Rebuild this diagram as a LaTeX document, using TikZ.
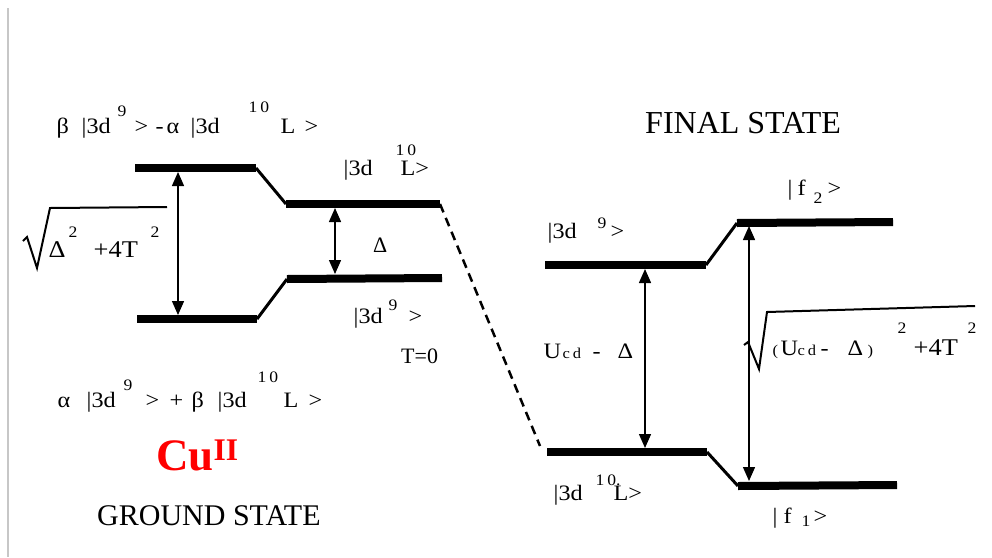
\documentclass[tikz,border=0pt]{standalone}
\usepackage{graphicx}
\usepackage{fontspec}
\setmainfont{Liberation Serif}
\usetikzlibrary{arrows.meta}
% place a piece of text at an x offset (pt) and a vertical raise (pt)
\newcommand{\pc}[3]{\rlap{\hspace*{#1pt}\raisebox{#2pt}{\scalebox{1.1}[1]{#3}}}}
\newcommand{\supf}[1]{{\fontsize{16}{16}\selectfont #1}}
\newcommand{\smf}[1]{{\fontsize{15}{15}\selectfont #1}}
\begin{document}
\begin{tikzpicture}[x=1pt,y=-1pt,
  level/.style={line width=8pt},
  slope/.style={line width=3pt},
  gaparrow/.style={line width=1.4pt,{Triangle[width=12pt,length=14pt]}-{Triangle[width=12pt,length=14pt]}},
  rootsign/.style={line width=2pt,line join=miter},
  lbl/.style={inner sep=0pt,anchor=base west,font=\fontsize{22}{24}\selectfont},
  lblbig/.style={inner sep=0pt,anchor=base west,font=\fontsize{24}{26}\selectfont},
  title/.style={inner sep=0pt,anchor=base west,font=\fontsize{32}{33}\selectfont}]
\useasboundingbox (0,0) rectangle (992,557);
\fill[white] (0,0) rectangle (992,557);
\draw[line width=2pt, black!22] (8,8) -- (8,557);

% ground state levels
\coordinate (lu1) at (135,168); \coordinate (lu2) at (256,168);
\coordinate (lu3) at (286,204); \coordinate (lu4) at (440,204);
\coordinate (ll1) at (137,319); \coordinate (ll2) at (257,319);
\coordinate (ll3) at (287,279); \coordinate (ll4) at (442,278);
\draw[level] (lu1) -- (lu2);
\draw[slope] (lu2) -- (lu3);
\draw[level] (lu3) -- (lu4);
\draw[level] (ll1) -- (ll2);
\draw[slope] (ll2) -- (ll3);
\draw[level] (ll3) -- (ll4);

% final state levels
\coordinate (ru1) at (545,265); \coordinate (ru2) at (706,265);
\coordinate (ru3) at (737,223); \coordinate (ru4) at (893,222);
\coordinate (rl1) at (547,452); \coordinate (rl2) at (707,452);
\coordinate (rl3) at (738,486); \coordinate (rl4) at (897,485);
\draw[level] (ru1) -- (ru2);
\draw[slope] (ru2) -- (ru3);
\draw[level] (ru3) -- (ru4);
\draw[level] (rl1) -- (rl2);
\draw[slope] (rl2) -- (rl3);
\draw[level] (rl3) -- (rl4);

% dashed connection
\coordinate (dend) at (540,446);
\draw[line width=2.5pt,dash pattern=on 9pt off 6pt] (lu4) -- (dend);

% gap arrows
\coordinate (a1t) at (178,172); \coordinate (a1b) at (178,315);
\coordinate (a2t) at (335,208); \coordinate (a2b) at (335,274);
\coordinate (a3t) at (645,269); \coordinate (a3b) at (645,448);
\coordinate (a4t) at (749,226); \coordinate (a4b) at (749,481);
\draw[gaparrow] (a1t) -- (a1b);
\draw[gaparrow] (a2t) -- (a2b);
\draw[gaparrow] (a3t) -- (a3b);
\draw[gaparrow] (a4t) -- (a4b);

% root signs
\draw[rootsign] (23,241) -- (27,237) -- (37,268) -- (50,208) -- (167,207);
\draw[rootsign] (744,345) -- (748,342) -- (759,369) -- (767,312) -- (975,306);

% labels ground state
\node[lbl] (topmix) at (56,133) {\pc{0}{0}{β}\pc{25}{0}{|3d}\pc{61}{17}{\supf{9}}\pc{78}{0}{>}\pc{99}{0}{-}\pc{110}{0}{α}\pc{134}{0}{|3d}\pc{192}{21}{\supf{1\,0}}\pc{224}{0}{L}\pc{248}{0}{>}};
\node[lbl] (d10a) at (343,175) {\pc{0}{0}{|3d}\pc{52}{20}{\supf{1\,0}}\pc{57}{0}{L>}};
\node[lbl] (delta) at (373,252) {Δ};
\node[lbl] (d9a) at (353,323) {\pc{0}{0}{|3d}\pc{35}{13}{\supf{9}}\pc{55}{0}{>}};
\node[lbl] (t0) at (401,363) {T=0};
\node[lblbig] (rootl) at (48,257) {\pc{0}{0}{Δ}\pc{20}{20}{\supf{2}}\pc{45}{0}{+}\pc{60}{0}{4T}\pc{102}{20}{\supf{2}}};
\node[lbl] (botmix) at (57,407) {\pc{0}{0}{α}\pc{29}{0}{|3d}\pc{66}{17}{\supf{9}}\pc{88}{0}{>}\pc{112}{0}{+}\pc{134}{0}{β}\pc{160}{0}{|3d}\pc{200}{25}{\supf{1\,0}}\pc{226}{0}{L}\pc{251}{0}{>}};
\node[inner sep=0pt,anchor=base west,text=red,font=\fontsize{45}{46}\selectfont\bfseries] (cu) at (156,470) {Cu\textsuperscript{II}};
\node[title,font=\fontsize{30}{31}\selectfont] (gs) at (97,525) {GROUND STATE};

% labels final state
\node[title] (fs) at (645,133) {FINAL STATE};
\node[lbl] (f2) at (787,195) {\pc{0}{0}{|}\pc{10}{0}{f}\pc{26}{-8}{\supf{2}}\pc{40}{0}{>}};
\node[lbl] (d9b) at (547,238) {\pc{0}{0}{|3d}\pc{50}{10}{\supf{9}}\pc{63}{0}{>}};
\node[lbl] (ucd) at (543,358) {\pc{0}{0}{U}\pc{19}{0}{\smf{c\,d}}\pc{49}{0}{-}\pc{74}{0}{Δ}};
\node[lbl] (rootr) at (772,355) {\pc{0}{0}{\smf{(}}\pc{8}{0}{U}\pc{25}{0}{\smf{c\,d}}\pc{48}{0}{-}\pc{75}{0}{Δ}\pc{95}{0}{\smf{)}}\pc{125}{22}{\supf{2}}\pc{141}{0}{\fontsize{24}{26}\selectfont +4T}\pc{195}{22}{\supf{2}}};
\node[lbl] (d10c) at (553,500) {\pc{0}{0}{|3d}\pc{42}{15}{\supf{1\,0.}}\pc{60}{0}{L>}};
\node[lbl] (f1) at (772,523) {\pc{0}{0}{|}\pc{11}{0}{f}\pc{29}{-3}{\supf{1}}\pc{41}{0}{>}};
\end{tikzpicture}
\end{document}
